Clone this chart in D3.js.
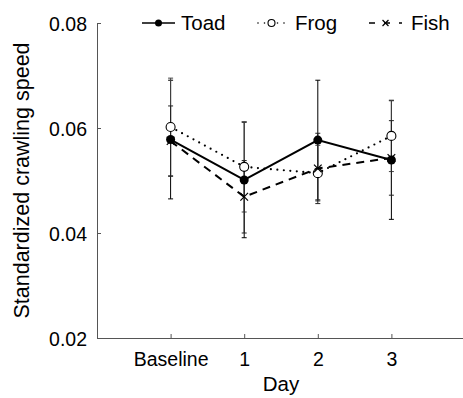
<!DOCTYPE html>
<html><head><meta charset="utf-8">
<script src="https://cdn.jsdelivr.net/npm/d3@7"></script>
<style>
body{margin:0;background:#fff;}
svg text{font-family:"Liberation Sans",Arial,Helvetica,sans-serif;fill:#000;}
</style></head>
<body><svg id="c" width="463" height="398"></svg>
<script>
const categories = ["Baseline", "1", "2", "3"];
const seriesNames = ["Toad", "Frog", "Fish"];
const toadMean = [0.0578, 0.0501, 0.0577, 0.0539];
const toadErr  = [0.0113, 0.0110, 0.0114, 0.0113];
const frogMean = [0.0602, 0.0526, 0.0514, 0.0585];
const frogErr  = [0.0093, 0.0086, 0.0053, 0.0068];
const fishMean = [0.0575, 0.0469, 0.0523, 0.0543];
const fishErr  = [0.0067, 0.0069, 0.0067, 0.0071];
const yTicks = [0.02, 0.04, 0.06, 0.08];

const svg = d3.select("#c");
const x = d3.scaleLinear().domain([-1, 4]).range([97, 465]);
const y = d3.scaleLinear().domain([0.02, 0.08]).range([338, 23]);

const series = [
  {name:"Toad", mean:toadMean, err:toadErr, dash:null, marker:"filled", errColor:"#000"},
  {name:"Frog", mean:frogMean, err:frogErr, dash:"0,6.5", marker:"open", errColor:"#444"},
  {name:"Fish", mean:fishMean, err:fishErr, dash:"8,6", marker:"cross", errColor:"#222"}
];

// axes
const yAxis = d3.axisLeft(y).tickValues(yTicks).tickFormat(d3.format(".2f")).tickSizeInner(-4).tickSizeOuter(0).tickPadding(10);
const gy = svg.append("g").attr("transform", `translate(${x(-1)},0)`).call(yAxis);
gy.select(".domain").attr("stroke", "#555");
gy.selectAll(".tick line").attr("stroke", "#555");
gy.selectAll(".tick text").attr("font-size", 19.5).attr("dy", "0.36em");

const xAxis = d3.axisBottom(x).tickValues([0,1,2,3]).tickFormat(i => categories[i]).tickSizeInner(-4).tickSizeOuter(0).tickPadding(14);
const gx = svg.append("g").attr("transform", `translate(0,${y(0.02)})`).call(xAxis);
gx.select(".domain").attr("stroke", "#555");
gx.selectAll(".tick line").attr("stroke", "#555");
gx.selectAll(".tick text").attr("font-size", 19.5).attr("dy", "0.71em");

svg.append("text").attr("x", x(1.5)).attr("y", 391).attr("text-anchor", "middle").attr("font-size", 20.5).text("Day");
svg.append("text").attr("transform", `translate(29,${y(0.05)}) rotate(-90)`).attr("text-anchor", "middle").attr("font-size", 21.5).text("Standardized crawling speed");

// error bars
series.forEach(s => {
  const g = svg.append("g");
  s.mean.forEach((m, i) => {
    const cx = x(i), lo = y(m - s.err[i]), hi = y(m + s.err[i]);
    g.append("line").attr("x1", cx).attr("x2", cx).attr("y1", lo).attr("y2", hi).attr("stroke", s.errColor).attr("stroke-width", 1);
    [lo, hi].forEach(yy => g.append("line").attr("x1", cx - 2.5).attr("x2", cx + 2.5).attr("y1", yy).attr("y2", yy).attr("stroke", s.errColor).attr("stroke-width", 1));
  });
});

// lines
const line = d3.line().x((d, i) => x(i)).y(d => y(d));
series.forEach(s => {
  const p = svg.append("path").attr("d", line(s.mean)).attr("fill", "none").attr("stroke", "#000").attr("stroke-width", 2);
  if (s.dash) p.attr("stroke-dasharray", s.dash);
  if (s.name === "Frog") p.attr("stroke-linecap", "round").attr("stroke-width", 2.2);
});

function marker(g, type, cx, cy, r) {
  if (type === "filled") g.append("circle").attr("cx", cx).attr("cy", cy).attr("r", r).attr("fill", "#000");
  else if (type === "open") g.append("circle").attr("cx", cx).attr("cy", cy).attr("r", r).attr("fill", "#fff").attr("stroke", "#000").attr("stroke-width", 1.1);
  else {
    const h = r * 0.85;
    g.append("path").attr("d", `M${cx-h},${cy-h}L${cx+h},${cy+h}M${cx-h},${cy+h}L${cx+h},${cy-h}`).attr("stroke", "#000").attr("stroke-width", 1.2).attr("fill", "none");
  }
}
series.forEach(s => {
  const g = svg.append("g");
  s.mean.forEach((m, i) => marker(g, s.marker, x(i), y(m), 4.5));
});

// legend
const legX = [142, 255, 369];
const legTextX = [181, 295, 411];
series.forEach((s, k) => {
  const g = svg.append("g");
  const ly = 23;
  const l = g.append("line").attr("x1", legX[k]).attr("x2", legX[k] + 33).attr("y1", ly).attr("y2", ly).attr("stroke", "#000").attr("stroke-width", 1.6);
  if (s.name === "Frog") l.attr("stroke-dasharray", "0,6.5").attr("stroke-linecap", "round").attr("stroke-dashoffset", -3);
  if (s.name === "Fish") l.attr("stroke-dasharray", "6,9").attr("stroke-dashoffset", 0);
  marker(g, s.marker, legX[k] + 16.5, ly, 3.5);
  g.append("text").attr("x", legTextX[k]).attr("y", ly).attr("dy", "0.35em").attr("font-size", 20.5).text(s.name);
});
</script></body></html>
